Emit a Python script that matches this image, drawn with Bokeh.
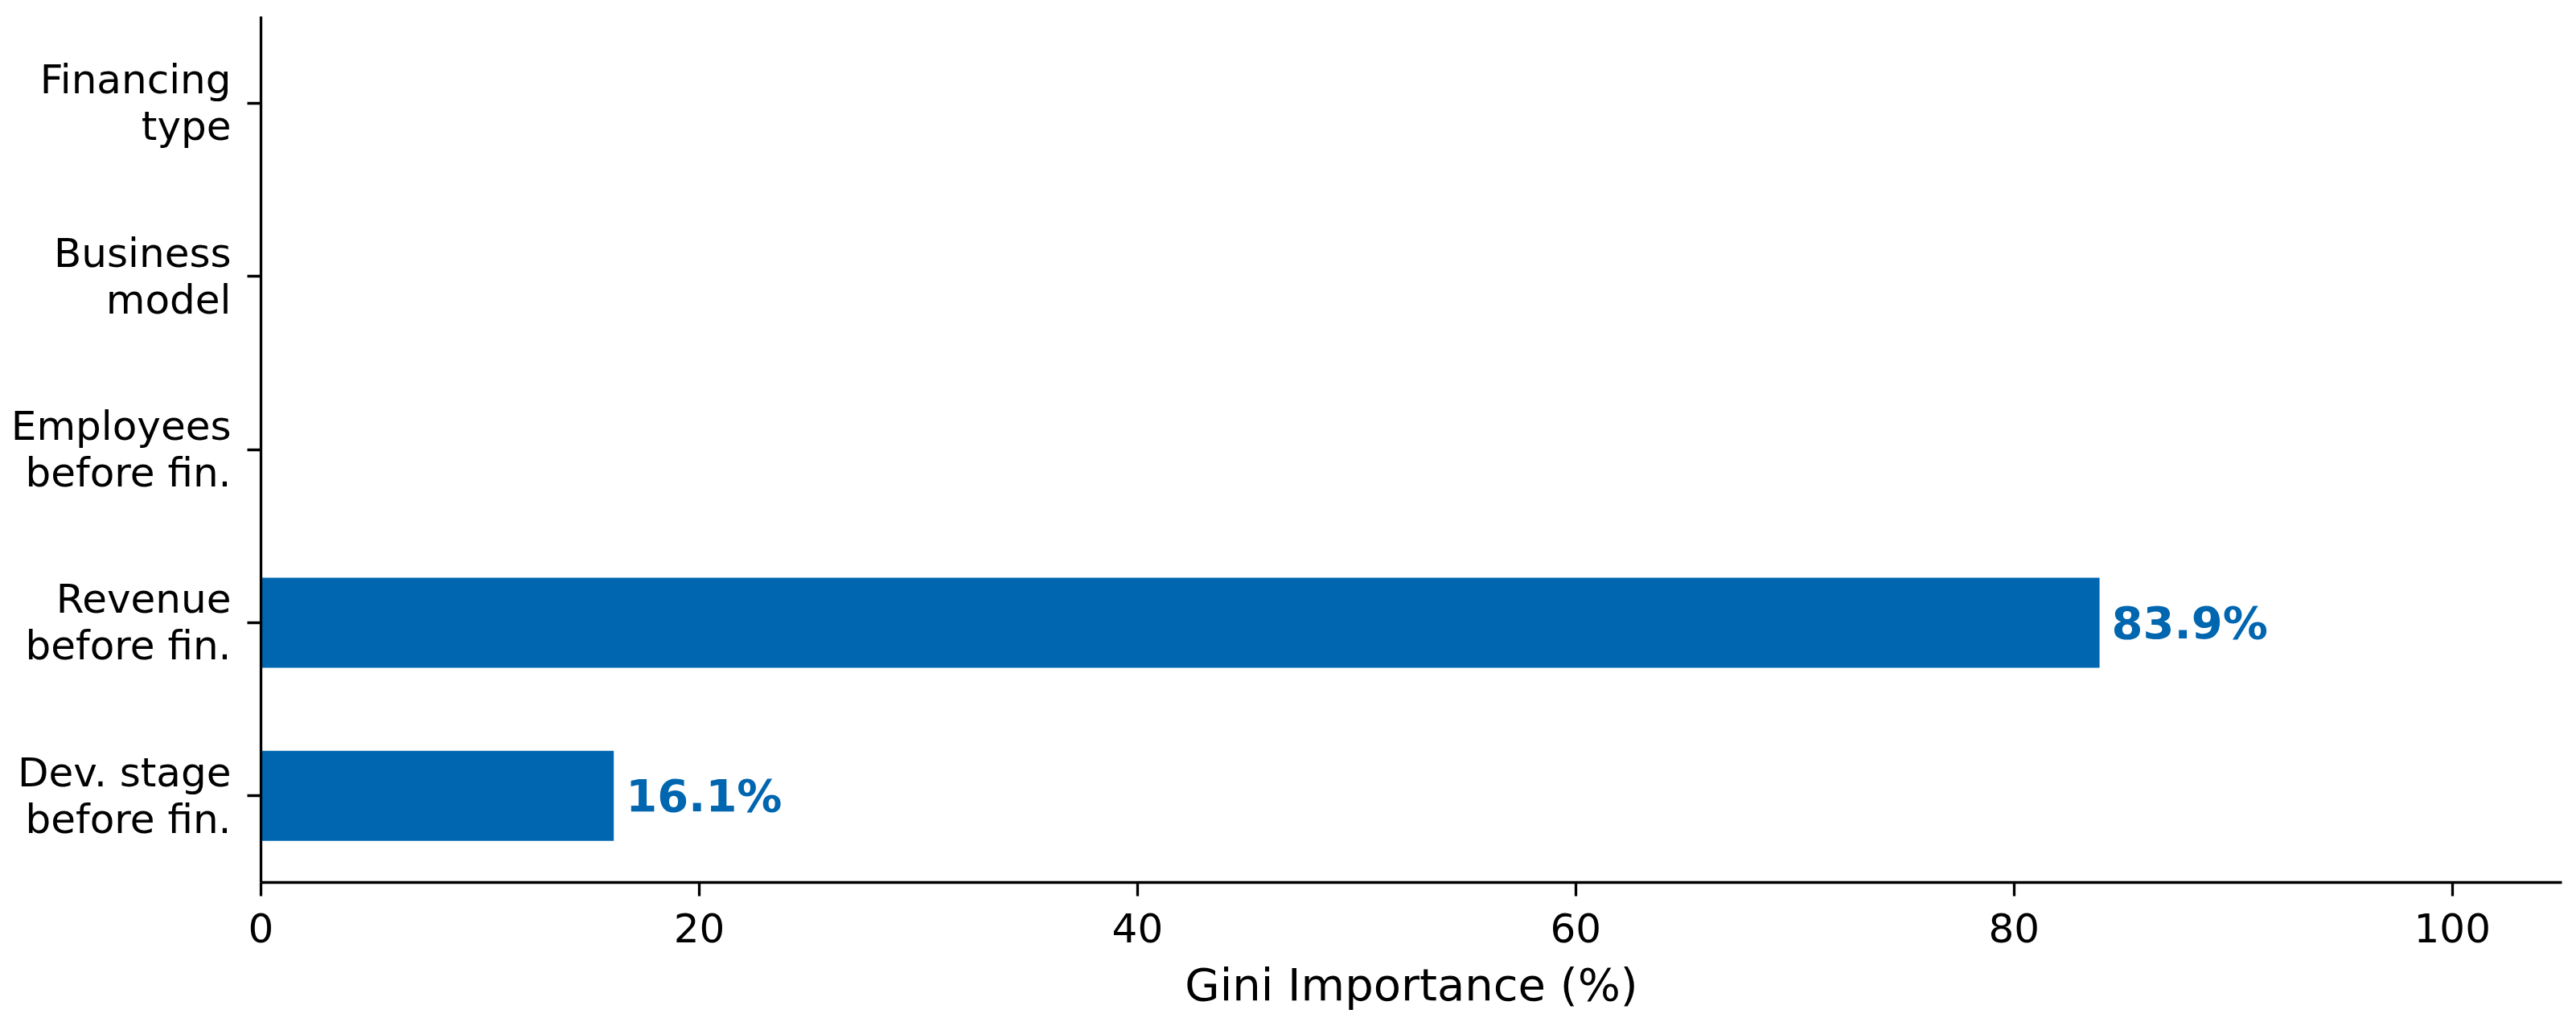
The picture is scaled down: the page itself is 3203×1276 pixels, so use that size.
from bokeh.plotting import figure
from bokeh.models import FactorRange, Range1d, FixedTicker, ColumnDataSource
from bokeh.core.properties import value
from bokeh.embed import file_html
from bokeh.resources import INLINE

# Data (bottom to top)
categories = ["Dev. stage\nbefore fin.", "Revenue\nbefore fin.", "Employees\nbefore fin.",
              "Business\nmodel", "Financing\ntype"]
importance = [16.1, 83.9, 0.0, 0.0, 0.0]
x_ticks = [0, 20, 40, 60, 80, 100]

BAR = "#0066B0"
FONT = "DejaVu Sans"

p = figure(width=3187, height=1260, output_backend="svg", toolbar_location=None,
           y_range=FactorRange(factors=categories, range_padding=0),
           x_range=Range1d(0, 105),
           min_border_left=324, min_border_right=2, min_border_top=20, min_border_bottom=163)
p.outline_line_color = None
p.xgrid.visible = False
p.ygrid.visible = False
p.background_fill_color = "white"
p.border_fill_color = "white"

src = ColumnDataSource(dict(cat=categories, val=importance))
p.hbar(y="cat", right="val", left=0, height=0.52, source=src, fill_color=BAR, line_color=None)

lab_cats = [c for c, v in zip(categories, importance) if v > 0]
lab_vals = [v for v in importance if v > 0]
lab_txt = [f"{v:.1f}%" for v in lab_vals]
lsrc = ColumnDataSource(dict(cat=lab_cats, val=lab_vals, txt=lab_txt))
p.text(x="val", y="cat", text="txt", source=lsrc, x_offset=15, text_baseline="middle",
       text_align="left", text_font=value(FONT), text_font_style="bold",
       text_font_size="56px", text_color=BAR)

for ax in (p.xaxis[0], p.yaxis[0]):
    ax.axis_line_width = 3.3
    ax.axis_line_color = "black"
    ax.major_tick_line_width = 3.3
    ax.major_tick_line_color = "black"
    ax.major_tick_out = 17
    ax.major_tick_in = 0
    ax.minor_tick_line_color = None
    ax.major_label_text_font = FONT
    ax.major_label_text_font_size = "50px"
    ax.major_label_text_color = "black"

p.xaxis.ticker = FixedTicker(ticks=x_ticks)
p.xaxis.major_label_standoff = 21
p.xaxis.axis_label = "Gini Importance (%)"
p.xaxis.axis_label_text_font = FONT
p.xaxis.axis_label_text_font_size = "56px"
p.xaxis.axis_label_text_font_style = "normal"
p.xaxis.axis_label_text_color = "black"
p.xaxis.axis_label_text_line_height = 1.0
p.xaxis.axis_label_standoff = 17
p.yaxis.major_label_standoff = 20
p.yaxis.major_label_text_line_height = 1.0

open("out.html", "w").write(file_html(p, INLINE))
